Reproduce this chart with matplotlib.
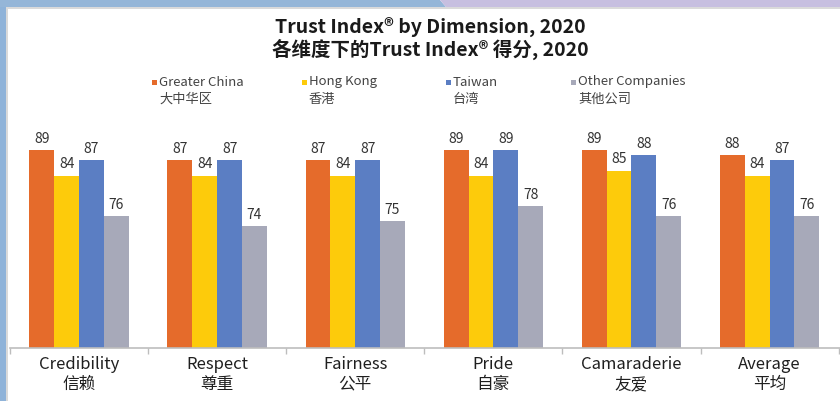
"""Trust Index by dimension, grouped bar chart."""

import matplotlib

matplotlib.use("Agg")
import matplotlib.pyplot as plt
from matplotlib.patches import Polygon, Rectangle

plt.rcParams["font.family"] = ["Noto Sans CJK SC", "DejaVu Sans"]

categories = ["Credibility\n信赖", "Respect\n尊重", "Fairness\n公平", "Pride\n自豪", "Camaraderie\n友爱", "Average\n平均"]
series_names = ["Greater China", "Hong Kong", "Taiwan", "Other Companies"]
series_names_cn = ["大中华区", "香港", "台湾", "其他公司"]
greater_china = [89, 87, 87, 89, 89, 88]
hong_kong = [84, 84, 84, 84, 85, 84]
taiwan = [87, 87, 87, 89, 88, 87]
other_companies = [76, 74, 75, 78, 76, 76]

colors = ["#E56B2B", "#FDCB0B", "#5B7EC3", "#A7A9B9"]

W, H = 840, 401
fig = plt.figure(figsize=(W / 100, H / 100), dpi=100)
fig.patch.set_facecolor("white")


def px(x, y):
    # pixel coords (from top-left) -> figure fraction
    return x / W, 1 - y / H


# background frame: blue/lavender strips around the white panel
fig.add_artist(Polygon([px(0, 0), px(440, 0), px(446, 7), px(0, 7)], closed=True,
                       transform=fig.transFigure, facecolor="#95B6D8", edgecolor="none"))
fig.add_artist(Polygon([px(440, 0), px(840, 0), px(840, 7), px(446, 7)], closed=True,
                       transform=fig.transFigure, facecolor="#C7BFE0", edgecolor="none"))
fig.add_artist(Rectangle(px(0, 401), 6 / W, 394 / H, transform=fig.transFigure,
                         facecolor="#8FB3D9", edgecolor="none"))
fig.add_artist(Rectangle(px(6, 401), 2 / W, 394 / H, transform=fig.transFigure,
                         facecolor="#DADADA", edgecolor="none"))
fig.add_artist(Rectangle(px(6, 9), 834 / W, 2 / H, transform=fig.transFigure,
                         facecolor="#DADADA", edgecolor="none"))

# axes: baseline at y=348 px, value 50 at baseline
ax_left, ax_right = 10, 840
ax_bottom = 348
unit_px = 5.07
ymin, ymax = 50, 100
ax_height = (ymax - ymin) * unit_px
ax = fig.add_axes([ax_left / W, (H - ax_bottom) / H, (ax_right - ax_left) / W, ax_height / H])
ax.set_facecolor("none")

values = [greater_china, hong_kong, taiwan, other_companies]
x = list(range(len(categories)))
width = 0.18
for i, (vals, color) in enumerate(zip(values, colors)):
    offset = (i - 1.5) * width
    bars = ax.bar([xi + offset for xi in x], vals, width=width, color=color, bottom=0)
    ax.bar_label(bars, padding=3, fontsize=10, color="#333333")

ax.set_ylim(ymin, ymax)
ax.set_xlim(-0.5, len(categories) - 0.5 + 0.01)

for side in ["top", "right", "left"]:
    ax.spines[side].set_visible(False)
ax.spines["bottom"].set_color("#BDBDBD")
ax.spines["bottom"].set_linewidth(1.2)
ax.set_yticks([])

ax.set_xticks([b - 0.5 for b in range(len(categories) + 1)])
ax.set_xticklabels([])
ax.tick_params(axis="x", which="major", length=4, color="#BDBDBD", width=1)
ax.set_xticks(x, minor=True)
ax.set_xticklabels(categories, minor=True, fontsize=12, color="#1F1F1F", linespacing=1.2)
ax.tick_params(axis="x", which="minor", length=0, pad=6)

# title
fig.text(*px(430, 27), "Trust Index\u00ae by Dimension, 2020", ha="center", va="center",
         fontsize=14, fontweight="bold", color="#1A1A1A")
fig.text(*px(430, 49), "各维度下的Trust Index\u00ae 得分, 2020", ha="center", va="center",
         fontsize=14, fontweight="bold", color="#1A1A1A")

# legend
legend_x = [152, 302, 446, 571]
for lx, color, name, name_cn in zip(legend_x, colors, series_names, series_names_cn):
    fig.add_artist(Rectangle(px(lx, 85), 5 / W, 5 / H, transform=fig.transFigure,
                             facecolor=color, edgecolor="none"))
    fig.text(*px(lx + 7, 82), name, ha="left", va="center", fontsize=9.5, color="#444444")
    fig.text(*px(lx + 7, 99), name_cn, ha="left", va="center", fontsize=9.5, color="#444444")

fig.savefig("out.png", dpi=100)
